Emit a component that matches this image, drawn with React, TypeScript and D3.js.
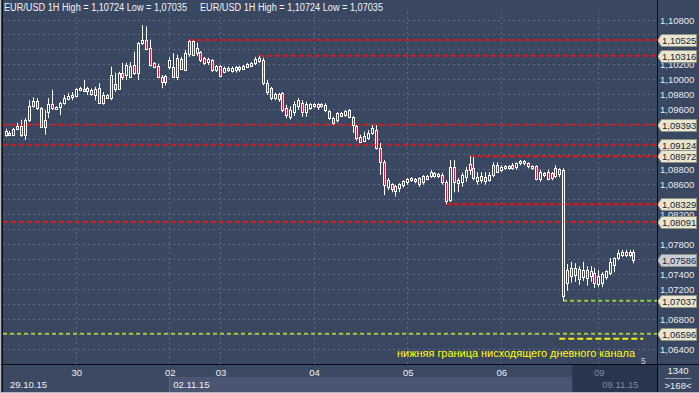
import React from 'react';
import * as d3 from 'd3';

// ---- data (EUR/USD 1H) ----
const opens = [
  1.0926,1.0926,1.0926,1.0934,1.0938,1.0926,1.0946,1.0964,1.0971,1.0962,
  1.0946,1.0956,1.0967,1.0960,1.0963,1.0968,1.0974,1.0976,1.0978,1.0986,
  1.0984,1.0984,1.0986,1.0979,1.0988,1.0968,1.0979,1.0975,1.0994,1.0987,
  1.1009,1.1006,1.1003,1.1019,1.1009,1.1049,1.1053,1.1042,1.1022,1.1018,
  1.1003,1.0996,1.1017,1.1017,1.1003,1.1027,1.1013,1.1034,1.1051,1.1035,
  1.1037,1.1029,1.1023,1.1026,1.1013,1.1018,1.1010,1.1013,1.1011,1.1013,
  1.1014,1.1014,1.1017,1.1018,1.1022,1.1025,1.1026,1.0995,1.0988,1.0975,
  1.0974,1.0982,1.0962,1.0950,1.0956,1.0964,1.0968,1.0956,1.0962,1.0964,
  1.0967,1.0964,1.0966,1.0958,1.0948,1.0946,1.0955,1.0952,1.0959,1.0950,
  1.0938,1.0923,1.0918,1.0922,1.0928,1.0932,1.0908,1.0889,1.0856,1.0860,
  1.0851,1.0855,1.0859,1.0863,1.0865,1.0864,1.0868,1.0863,1.0867,1.0871,
  1.0871,1.0871,1.0872,1.0863,1.0839,1.0883,1.0861,1.0863,1.0869,1.0887,
  1.0881,1.0869,1.0865,1.0869,1.0865,1.0872,1.0885,1.0879,1.0881,1.0881,
  1.0885,1.0883,1.0888,1.0888,1.0888,1.0881,1.0884,1.0867,1.0872,1.0876,
  1.0875,1.0871,1.0880,1.0879,1.0728,1.0748,1.0738,1.0746,1.0736,1.0745,
  1.0737,1.0741,1.0726,1.0728,1.0736,1.0741,1.0752,1.0761,1.0765,1.0769,
  1.0765,1.0769
];
const highs = [
  1.0934,1.0931,1.0935,1.0942,1.0946,1.0948,1.0972,1.0976,1.0975,1.0963,
  1.0959,1.0975,1.0986,1.0964,1.0970,1.0979,1.0982,1.0983,1.0988,1.0990,
  1.0999,1.0990,1.0988,1.0990,1.0995,1.0983,1.0980,1.1017,1.1009,1.1010,
  1.1022,1.1022,1.1023,1.1037,1.1050,1.10724,1.1071,1.1053,1.1023,1.1021,
  1.1006,1.1006,1.1030,1.1035,1.1033,1.1030,1.1039,1.10525,1.1052,1.1049,
  1.1038,1.1030,1.1029,1.1027,1.1019,1.1019,1.1017,1.1017,1.1017,1.1018,
  1.1018,1.1019,1.1022,1.1023,1.1030,1.10316,1.1029,1.0999,1.0990,1.0982,
  1.0982,1.0983,1.0966,1.0964,1.0971,1.0975,1.0972,1.0970,1.0968,1.0968,
  1.0968,1.0968,1.0968,1.0959,1.0950,1.0956,1.0956,1.0959,1.0960,1.0951,
  1.0939,1.0926,1.0930,1.0932,1.0939,1.0939,1.0915,1.0892,1.0868,1.0861,
  1.0859,1.0861,1.0865,1.0868,1.0869,1.0868,1.0869,1.0872,1.0872,1.0879,
  1.0876,1.0875,1.0875,1.0865,1.0892,1.0892,1.0868,1.0875,1.0883,1.08972,
  1.0896,1.0876,1.0876,1.0876,1.0876,1.0889,1.0889,1.0885,1.0885,1.0885,
  1.0888,1.0889,1.0892,1.0892,1.0889,1.0885,1.0885,1.0879,1.0876,1.0879,
  1.0876,1.0885,1.0881,1.0881,1.0753,1.0756,1.0754,1.0750,1.0756,1.0750,
  1.0750,1.0748,1.0745,1.0742,1.0745,1.0761,1.0762,1.0772,1.0772,1.0772,
  1.0772,1.0772
];
const lows = [
  1.0923,1.0924,1.0924,1.0932,1.0923,1.0919,1.0943,1.0962,1.0959,1.0935,
  1.0926,1.0948,1.0959,1.0959,1.0952,1.0966,1.0972,1.0972,1.0976,1.0984,
  1.0983,1.0979,1.0978,1.0972,1.0967,1.0966,1.0974,1.0972,1.0983,1.0986,
  1.0999,1.0999,1.1002,1.1006,1.0999,1.1046,1.1039,1.1017,1.1015,1.1002,
  1.0988,1.0992,1.1013,1.1002,1.0999,1.1013,1.1011,1.1030,1.1031,1.1031,
  1.1023,1.1019,1.1019,1.1010,1.1010,1.1003,1.1009,1.1010,1.1009,1.1009,
  1.1010,1.1013,1.1015,1.1017,1.1019,1.1022,1.0992,1.0979,1.0972,1.0972,
  1.0970,1.0956,1.0948,1.0946,1.0951,1.0959,1.0950,1.0950,1.0959,1.0962,
  1.0959,1.0962,1.0956,1.0946,1.0939,1.0942,1.0950,1.0950,1.0948,1.0928,
  1.0918,1.0915,1.0916,1.0919,1.0926,1.0906,1.0872,1.0845,1.0852,1.0849,
  1.0843,1.0849,1.0855,1.0859,1.0863,1.0861,1.0856,1.0859,1.0865,1.0868,
  1.0868,1.0868,1.0859,1.08329,1.0836,1.0849,1.0849,1.0856,1.0863,1.0872,
  1.0865,1.0859,1.0861,1.0859,1.0863,1.0869,1.0875,1.0876,1.0879,1.0879,
  1.0879,1.0879,1.0885,1.0885,1.0881,1.0879,1.0865,1.0863,1.0869,1.0865,
  1.0865,1.0868,1.0869,1.07035,1.0717,1.0728,1.0729,1.0725,1.0730,1.0724,
  1.0729,1.0721,1.0722,1.0722,1.0732,1.0738,1.0742,1.0758,1.0762,1.0762,
  1.0762,1.0754
];
const closes = [
  1.0931,1.0928,1.0934,1.0938,1.0926,1.0946,1.0964,1.0971,1.0962,1.0936,
  1.0936,1.0967,1.0962,1.0963,1.0968,1.0975,1.0978,1.0979,1.0987,1.0988,
  1.0987,1.0988,1.0980,1.0987,1.0968,1.0979,1.0975,1.1006,1.0987,1.1009,
  1.1003,1.1019,1.1018,1.1009,1.1049,1.1053,1.1041,1.1019,1.1017,1.1003,
  1.0996,1.1005,1.1026,1.1003,1.1029,1.1014,1.1035,1.1051,1.1033,1.1042,
  1.1026,1.1022,1.1027,1.1013,1.1018,1.1005,1.1015,1.1015,1.1015,1.1017,
  1.1017,1.1018,1.1021,1.1022,1.1027,1.1029,1.0995,1.0983,1.0975,1.0980,
  1.0980,1.0959,1.0952,1.0959,1.0967,1.0972,1.0956,1.0967,1.0967,1.0967,
  1.0963,1.0967,1.0959,1.0948,1.0942,1.0955,1.0951,1.0958,1.0950,1.0939,
  1.0922,1.0916,1.0924,1.0928,1.0935,1.0908,1.0889,1.0859,1.0865,1.0853,
  1.0857,1.0860,1.0864,1.0867,1.0868,1.0867,1.0860,1.0871,1.0871,1.0876,
  1.0875,1.0873,1.0863,1.0837,1.0883,1.0863,1.0865,1.0872,1.0879,1.0879,
  1.0868,1.0864,1.0871,1.0864,1.0872,1.0885,1.0876,1.0883,1.0884,1.0884,
  1.0881,1.0888,1.0891,1.0891,1.0884,1.0884,1.0867,1.0876,1.0875,1.0867,
  1.0868,1.0881,1.0873,1.0710,1.0745,1.0737,1.0748,1.0733,1.0745,1.0734,
  1.0744,1.0728,1.0737,1.0740,1.0744,1.0756,1.0761,1.0768,1.0769,1.0765,
  1.0769,1.07586
];

const dayIndex = [18, 42, 55, 79, 103, 127, 152];
const dayLabels = ['30', '02', '03', '04', '05', '06', '09'];
const dateIndex = [0, 42, 152];
const dateLabels = ['29.10.15', '02.11.15', '09.11.15'];

const redLevels = [1.10525, 1.10316, 1.09393, 1.09124, 1.08972, 1.08329, 1.08091];
const redStarts = [47, 65, -1, -1, 119, 113, -1];
const greenLevels = [1.07037, 1.06596];
const greenStarts = [143, -1];
const yellowLevel = 1.0653;
const yellowSpan = [142, 163.5];
const lastPrice = 1.07586;

const priceTicks = d3.range(0, 23).map((k) => 1.064 + k * 0.002);
const titleText = 'EUR/USD 1H High = 1,10724 Low = 1,07035';
const noteText = 'нижняя граница нисходящего дневного канала';
const barsInfo = ['1340', '>168<'];

// ---- layout ----
const W = 699, H = 393;
const PL = 3, PR = 657, PB = 364;
const BG = '#3a4761';
const FONT = '"Liberation Sans", Arial, sans-serif';

const fmt = (v: number) => d3.format('.5f')(v).replace('.', ',');

export default function App() {
  const y = d3.scaleLinear().domain([1.064, 1.108]).range([348.5, 19.5]);
  const x = d3.scaleLinear().domain([0, 161]).range([5.5, 633.4]);

  const candles = opens.map((o, i) => ({ o, h: highs[i], l: lows[i], c: closes[i], i }));
  const lx = (s: number) => (s < 0 ? PL : x(s));
  const tagLevels = [...redLevels, ...greenLevels, lastPrice];
  // axis labels that the price tags cover almost entirely are not drawn
  const visibleTicks = priceTicks.filter((t) => tagLevels.every((v) => Math.abs(y(v) - y(t)) > 7));

  const tag = (v: number, fill: string, key: string) => {
    const yc = Math.round(y(v)) + 0.5;
    return (
      <g key={key}>
        <path
          d={`M${PR + 0.5},${yc} L${PR + 4.5},${yc - 6} L${696.5},${yc - 6} L${696.5},${yc + 6} L${PR + 4.5},${yc + 6} Z`}
          fill={fill}
          stroke="#8f9486"
          strokeWidth={1}
        />
        <text x={662} y={yc + 3.5} fontSize={9.5} fill="#1c2230" fontFamily={FONT}>
          {fmt(v)}
        </text>
      </g>
    );
  };

  return (
    <svg width={W} height={H} style={{ position: 'absolute', left: 0, top: 0 }}>
      <rect x={0} y={0} width={W} height={H} fill={BG} />
      {/* time axis band */}
      <rect x={0} y={PB} width={PR} height={H - PB} fill="#3c4963" />
      <rect x={x(42)} y={377} width={x(152) - 26 - x(42)} height={H - 377} fill="#4a5671" />
      <rect x={x(152) - 26} y={PB} width={PR - (x(152) - 26)} height={H - PB} fill="#29354d" />

      {/* grid */}
      {priceTicks.map((t, k) => (
        <line key={'g' + k} x1={PL} x2={PR} y1={Math.round(y(t)) + 0.5} y2={Math.round(y(t)) + 0.5}
          stroke="#5a6a87" strokeDasharray="2,3" strokeWidth={1} />
      ))}
      {dayIndex.map((d, k) => (
        <line key={'v' + k} x1={Math.round(x(d)) + 0.5} x2={Math.round(x(d)) + 0.5} y1={12} y2={PB}
          stroke="#5a6a87" strokeDasharray="2,3" strokeWidth={1} />
      ))}

      {/* level lines */}
      {redLevels.map((v, k) => (
        <line key={'r' + k} x1={lx(redStarts[k])} x2={PR} y1={y(v)} y2={y(v)}
          stroke="#f01010" strokeWidth={2} strokeDasharray="5,3" />
      ))}
      {greenLevels.map((v, k) => (
        <line key={'gr' + k} x1={lx(greenStarts[k])} x2={PR} y1={y(v)} y2={y(v)}
          stroke="#9ccc3a" strokeWidth={2} strokeDasharray="4,3" />
      ))}
      <line x1={x(yellowSpan[0])} x2={x(yellowSpan[1])} y1={y(yellowLevel)} y2={y(yellowLevel)}
        stroke="#f4f000" strokeWidth={2} strokeDasharray="6,3" />

      {/* candles */}
      {candles.map((d) => {
        const cx = Math.round(x(d.i));
        const bear = d.c < d.o;
        const top = Math.round(y(Math.max(d.o, d.c)));
        let bot = Math.round(y(Math.min(d.o, d.c)));
        if (bot - top < 1) bot = top + 1;
        return (
          <g key={'c' + d.i}>
            <line x1={cx + 0.5} x2={cx + 0.5} y1={y(d.h)} y2={y(d.l)} stroke="#ffffff" strokeWidth={1} />
            <rect x={cx - 0.5} y={top + 0.5} width={2} height={bot - top}
              fill={bear ? '#e8102a' : BG} stroke="#ffffff" strokeWidth={1} />
          </g>
        );
      })}

      {/* annotation */}
      <text x={397} y={357} fontSize={11.5} fill="#ffff00" fontFamily={FONT} textLength={238}
        lengthAdjust="spacingAndGlyphs">{noteText}</text>
      <text x={641} y={364} fontSize={8.5} fill="#c9ced8" fontFamily={FONT}>5</text>

      {/* titles */}
      <text x={4} y={11} fontSize={10} fill="#f2f4f8" fontFamily={FONT} textLength={183}
        lengthAdjust="spacingAndGlyphs">{titleText}</text>
      <text x={200} y={11} fontSize={10} fill="#f2f4f8" fontFamily={FONT} textLength={183}
        lengthAdjust="spacingAndGlyphs">{titleText}</text>

      {/* right axis */}
      <rect x={PR} y={0} width={W - PR} height={PB} fill={BG} />
      {visibleTicks.map((t, k) => (
        <text key={'yl' + k} x={660} y={Math.round(y(t)) + 4} fontSize={9.5} fill="#e6eaf2" fontFamily={FONT}>
          {fmt(t)}
        </text>
      ))}
      {redLevels.map((v, k) => tag(v, '#e9e6cf', 'tr' + k))}
      {greenLevels.map((v, k) => tag(v, '#e9e6cf', 'tg' + k))}
      {tag(lastPrice, '#c8ced8', 'tl')}

      {/* time axis labels */}
      {dayIndex.map((d, k) => (
        <text key={'dl' + k} x={x(d) + 1} y={376} fontSize={9.5} textAnchor="middle"
          fill={k === 6 ? '#7f8aa0' : '#eef1f6'} fontFamily={FONT}>{dayLabels[k]}</text>
      ))}
      {dateIndex.map((d, k) => (
        <text key={'dd' + k} x={k === 0 ? 10 : x(d) + 4} y={388} fontSize={9.5}
          fill={k === 2 ? '#7f8aa0' : '#eef1f6'} fontFamily={FONT}>{dateLabels[k]}</text>
      ))}
      <line x1={Math.round(x(42)) + 0.5} x2={Math.round(x(42)) + 0.5} y1={377} y2={H} stroke="#5d6982" />

      {/* bottom right info */}
      <text x={678} y={374} fontSize={9.5} textAnchor="middle" fill="#eef1f6" fontFamily={FONT}>{barsInfo[0]}</text>
      <line x1={665} x2={691} y1={378.5} y2={378.5} stroke="#9aa3b5" />
      <text x={678} y={389} fontSize={9.5} textAnchor="middle" fill="#eef1f6" fontFamily={FONT}>{barsInfo[1]}</text>

      {/* frame */}
      <line x1={PR + 0.5} x2={PR + 0.5} y1={0} y2={H} stroke="#0a0d14" />
      <line x1={0} x2={W} y1={PB + 0.5} y2={PB + 0.5} stroke="#0a0d14" />
      <line x1={2.5} x2={2.5} y1={0} y2={H} stroke="#0a0d14" />
      <line x1={0.5} x2={0.5} y1={0} y2={H} stroke="#b4b9c2" />
      <line x1={0} x2={W} y1={H - 0.5} y2={H - 0.5} stroke="#b4b9c2" />
    </svg>
  );
}
